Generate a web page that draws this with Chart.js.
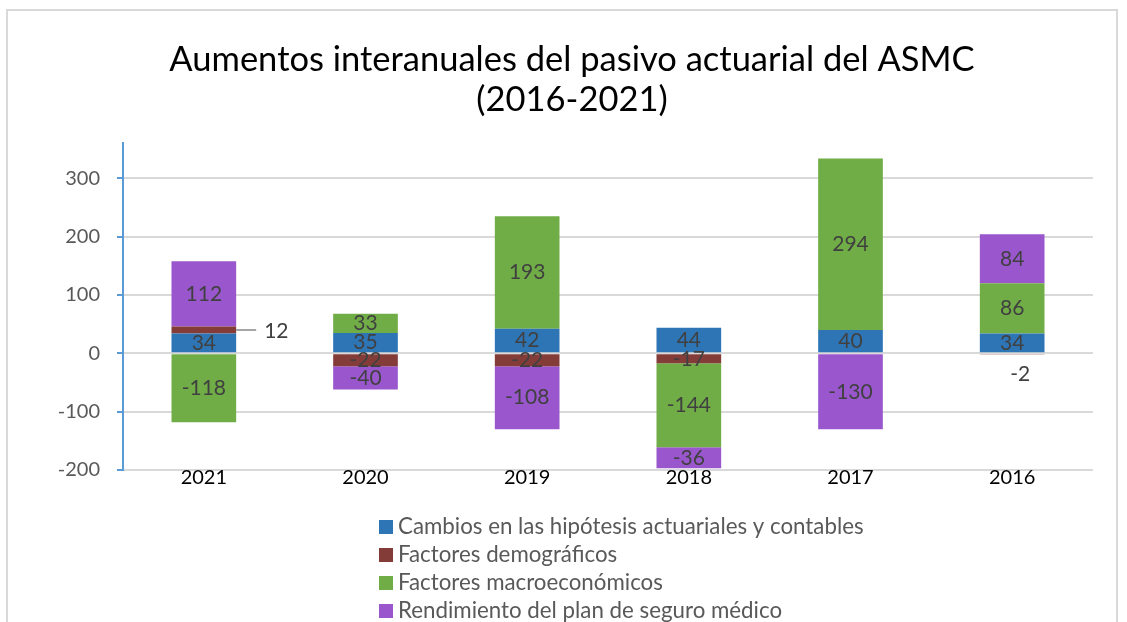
<!DOCTYPE html>
<html>
<head>
<meta charset="utf-8">
<script src="https://cdn.jsdelivr.net/npm/chart.js@4.4.1/dist/chart.umd.min.js"></script>
<style>
  html, body { margin: 0; padding: 0; background: #fff; }
  #wrap { position: relative; width: 1127px; height: 622px; }
</style>
</head>
<body>
<div id="wrap"><canvas id="chart" width="1127" height="622"></canvas></div>
<script>
// categories (as ordered in the source chart)
const years = ['2021', '2020', '2019', '2018', '2017', '2016'];

// series values, in millions
const cambiosHipotesis = [34, 35, 42, 44, 40, 34];
const factoresDemograficos = [12, -22, -22, -17, 0, -2];
const factoresMacro = [-118, 33, 193, -144, 294, 86];
const rendimientoPlan = [112, -40, -108, -36, -130, 84];

const seriesNames = [
  'Cambios en las hipótesis actuariales y contables',
  'Factores demográficos',
  'Factores macroeconómicos',
  'Rendimiento del plan de seguro médico'
];
const seriesColors = ['#2e75b6', '#843c39', '#70ad47', '#9a57cd'];

// labels that sit outside their (tiny) segment
const callouts = [
  { series: 1, index: 0, side: 'right' },
  { series: 1, index: 5, side: 'below' }
];

const FONT = 'Lato, "Open Sans", sans-serif';
Chart.defaults.font.family = FONT;

// light frame round the chart, like the exported picture
const framePlugin = {
  id: 'frame',
  beforeDraw(chart) {
    const ctx = chart.ctx;
    ctx.save();
    ctx.strokeStyle = '#d9d9d9';
    ctx.lineWidth = 2;
    ctx.strokeRect(7, 10, 1110, 700);
    ctx.restore();
  }
};

// value labels in the middle of every segment
const valueLabels = {
  id: 'valueLabels',
  afterDatasetsDraw(chart) {
    const ctx = chart.ctx;
    ctx.save();
    ctx.font = '21px ' + FONT;
    ctx.fillStyle = '#404040';
    ctx.textAlign = 'center';
    ctx.textBaseline = 'middle';
    chart.data.datasets.forEach((ds, si) => {
      const meta = chart.getDatasetMeta(si);
      meta.data.forEach((bar, i) => {
        const v = ds.data[i];
        if (v === 0) return;
        const midY = (bar.y + bar.base) / 2;
        const c = callouts.find(o => o.series === si && o.index === i);
        if (c && c.side === 'right') {
          const x0 = bar.x + bar.width / 2;
          ctx.strokeStyle = '#a6a6a6';
          ctx.lineWidth = 2;
          ctx.beginPath();
          ctx.moveTo(x0, midY);
          ctx.lineTo(x0 + 20, midY);
          ctx.stroke();
          ctx.textAlign = 'left';
          ctx.fillText(String(v), x0 + 28, midY + 1);
          ctx.textAlign = 'center';
        } else if (c && c.side === 'below') {
          ctx.fillText(String(v), bar.x + 8, Math.max(bar.y, bar.base) + 20);
        } else {
          ctx.fillText(String(v), bar.x, midY);
        }
      });
    });
    ctx.restore();
  }
};

// one legend entry per row, under the plot
const stackedLegend = {
  id: 'stackedLegend',
  afterDraw(chart) {
    const ctx = chart.ctx;
    ctx.save();
    ctx.font = '22.3px ' + FONT;
    ctx.textBaseline = 'middle';
    chart.data.datasets.forEach((ds, i) => {
      const y = 527 + i * 28;
      ctx.fillStyle = ds.backgroundColor;
      ctx.fillRect(379, y - 7, 14, 14);
      ctx.fillStyle = '#595959';
      ctx.fillText(ds.label, 398, y);
    });
    ctx.restore();
  }
};

const seriesData = [cambiosHipotesis, factoresDemograficos, factoresMacro, rendimientoPlan];

new Chart(document.getElementById('chart'), {
  type: 'bar',
  data: {
    labels: years,
    datasets: seriesData.map((d, i) => ({
      label: seriesNames[i],
      data: d,
      backgroundColor: seriesColors[i],
      categoryPercentage: 1,
      barPercentage: 0.4
    }))
  },
  options: {
    responsive: false,
    animation: false,
    layout: { padding: { top: 40, left: 51, right: 34, bottom: 136 } },
    plugins: {
      legend: { display: false },
      tooltip: { enabled: false },
      title: {
        display: true,
        text: ['Aumentos interanuales del pasivo actuarial del ASMC', '(2016-2021)'],
        color: '#000',
        font: { size: 34.5, weight: 'normal', lineHeight: 1.15 },
        padding: { top: 0, bottom: 24 }
      }
    },
    scales: {
      x: {
        stacked: true,
        grid: { display: false, drawTicks: false, tickLength: 0 },
        border: { display: false },
        ticks: { color: '#000', font: { size: 20, lineHeight: 1 }, padding: -2 }
      },
      y: {
        stacked: true,
        min: -200,
        max: 360,
        afterFit(scale) { scale.width = 123 - 51; },
        grid: { color: '#d9d9d9', lineWidth: 2, tickColor: '#5b9bd5', tickLength: 6 },
        border: { color: '#5b9bd5', width: 2 },
        ticks: { stepSize: 100, includeBounds: false, color: '#595959', font: { size: 20 }, padding: 17 }
      }
    }
  },
  plugins: [framePlugin, valueLabels, stackedLegend]
});
</script>
</body>
</html>
